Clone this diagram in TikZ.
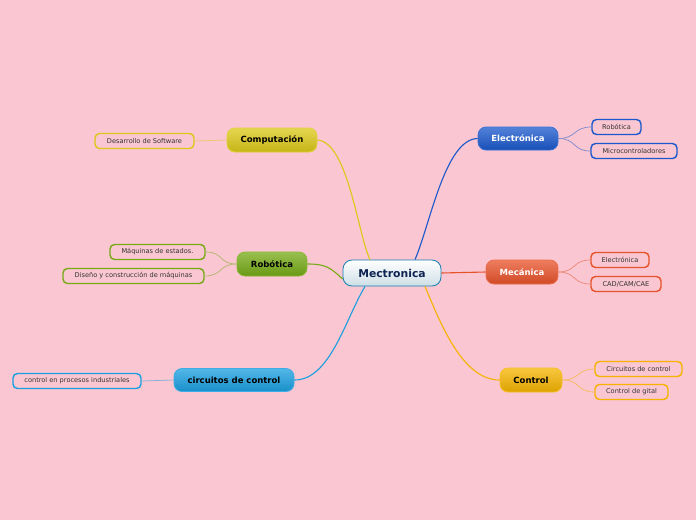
\documentclass[tikz,border=0pt]{standalone}
\usepackage{fontspec}
\setmainfont{DejaVu Sans}
\usepackage{tikz}
\usetikzlibrary{positioning,calc}

\definecolor{bgpink}{HTML}{F9C6D1}
\definecolor{cBlue}{HTML}{1A58CC}
\definecolor{cOrange}{HTML}{E8522A}
\definecolor{cGold}{HTML}{F6B400}
\definecolor{cYellow}{HTML}{DCC818}
\definecolor{cGreen}{HTML}{76AA16}
\definecolor{cSky}{HTML}{1A9FE0}
\definecolor{cNavy}{HTML}{0E2352}

\tikzset{
  centre/.style={rounded corners=9pt, draw=cSky!80!black, line width=0.8pt,
    top color=white, bottom color=cSky!14!white!92!black, text=cNavy,
    font=\bfseries\fontsize{10.8}{12}\selectfont, minimum width=98pt, minimum height=26pt, inner sep=0pt},
  topic/.style={rounded corners=8pt, draw=#1!85!white, line width=0.8pt,
    top color=#1!75!white, bottom color=#1!90!black,
    font=\bfseries\fontsize{8.5}{10}\selectfont, minimum height=24pt, inner sep=0pt},
  leaf/.style={rounded corners=4.5pt, draw=#1, line width=1.4pt, fill=bgpink,
    text=black!80, font=\fontsize{6.6}{7.5}\selectfont, minimum height=15pt, inner sep=0pt},
  branch/.style={draw=#1, line width=1.1pt},
  twig/.style={draw=#1!55!bgpink, line width=0.7pt},
}

\begin{document}
\begin{tikzpicture}[x=1pt,y=-1pt]
\fill[bgpink] (0,0) rectangle (696,520);
\useasboundingbox (0,0) rectangle (696,520);

% centre and main topics
\node[centre] (core) at (392,273) {Mectronica};
\node[topic=cBlue, text=white, minimum width=80pt, minimum height=23pt] (elec) at (518,138.5) {Electrónica};
\node[topic=cOrange, text=white, minimum width=72pt] (meca) at (522,272) {Mecánica};
\node[topic=cGold, text=black, minimum width=62pt] (ctrl) at (531,380) {Control};
\node[topic=cYellow, text=black, minimum width=90pt] (comp) at (272,140) {Computación};
\node[topic=cGreen, text=black, minimum width=70pt] (robo) at (272,264) {Robótica};
\node[topic=cSky, text=black, minimum width=120pt, minimum height=23pt] (circ) at (234,380) {circuitos de control};

% leaves
\node[leaf=cBlue, minimum width=49pt] (eRob) at (616.5,127) {Robótica};
\node[leaf=cBlue, minimum width=86pt] (eMic) at (634,151) {Microcontroladores};
\node[leaf=cOrange, minimum width=58pt] (mEle) at (620,260) {Electrónica};
\node[leaf=cOrange, minimum width=70pt] (mCad) at (626,284) {CAD/CAM/CAE};
\node[leaf=cGold, minimum width=87pt] (cCir) at (638.5,369) {Circuitos de control};
\node[leaf=cGold, minimum width=73pt] (cDig) at (631.5,392) {Control de gital};
\node[leaf=cYellow, minimum width=99pt] (pSof) at (144.5,141) {Desarrollo de Software};
\node[leaf=cGreen, minimum width=95pt] (rMaq) at (157.5,252) {Máquinas de estados.};
\node[leaf=cGreen, minimum width=141pt] (rDis) at (133.5,276) {Diseño y construcción de máquinas};
\node[leaf=cSky, minimum width=128pt] (iPro) at (77,381) {control en procesos industriales};

% branches
\draw[branch=cBlue] ([xshift=23pt]core.north) .. controls (430,225) and (445,139) .. (elec.west);
\draw[branch=cOrange] (core.east) -- (meca.west);
\draw[branch=cGold] ([xshift=33pt]core.south) .. controls (440,322) and (462,380) .. (ctrl.west);
\draw[branch=cYellow] (comp.east) .. controls (348,142) and (358,235) .. ([xshift=-22pt]core.north);
\draw[branch=cGreen] (robo.east) .. controls (325,264) and (330,267) .. ([yshift=-6pt]core.west);
\draw[branch=cSky] ([xshift=-27pt]core.south) .. controls (345,320) and (330,380) .. (circ.east);

% twigs
\draw[twig=cBlue] (elec.east) .. controls +(18,0) and +(-18,0) .. (eRob.west);
\draw[twig=cBlue] (elec.east) .. controls +(18,0) and +(-18,0) .. (eMic.west);
\draw[twig=cOrange] (meca.east) .. controls +(18,0) and +(-18,0) .. (mEle.west);
\draw[twig=cOrange] (meca.east) .. controls +(18,0) and +(-18,0) .. (mCad.west);
\draw[twig=cGold] (ctrl.east) .. controls +(18,0) and +(-18,0) .. (cCir.west);
\draw[twig=cGold] (ctrl.east) .. controls +(18,0) and +(-18,0) .. (cDig.west);
\draw[twig=cYellow] (comp.west) -- (pSof.east);
\draw[twig=cGreen] (robo.west) .. controls +(-18,0) and +(18,0) .. (rMaq.east);
\draw[twig=cGreen] (robo.west) .. controls +(-18,0) and +(18,0) .. (rDis.east);
\draw[twig=cSky] (circ.west) -- (iPro.east);
\end{tikzpicture}
\end{document}
